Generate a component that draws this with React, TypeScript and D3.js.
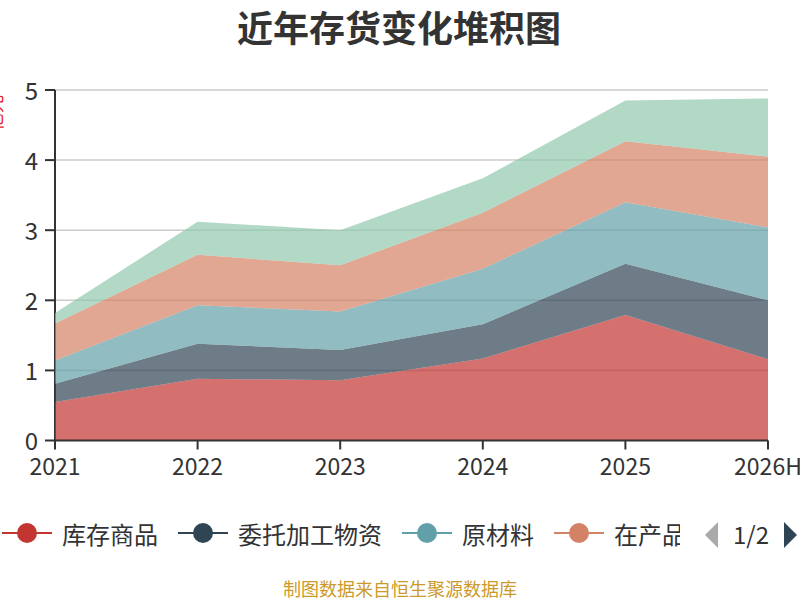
import React from "react";
import * as d3 from "d3";

const years = ["2021", "2022", "2023", "2024", "2025", "2026H"];
const seriesNames = ["库存商品", "委托加工物资", "原材料", "在产品", "发出商品"];
const colors = ["#c23531", "#2f4554", "#61a0a8", "#d48265", "#91c7ae"];

const kucun = [0.55, 0.88, 0.86, 1.17, 1.79, 1.16];
const weituo = [0.26, 0.5, 0.43, 0.49, 0.73, 0.84];
const yuancailiao = [0.33, 0.55, 0.55, 0.79, 0.88, 1.04];
const zaichanpin = [0.53, 0.72, 0.66, 0.8, 0.87, 1.01];
const fachu = [0.15, 0.47, 0.5, 0.49, 0.58, 0.83];

const yTicks = [0, 1, 2, 3, 4, 5];

const W = 800;
const H = 600;
const left = 55;
const right = 768;
const top = 90;
const bottom = 440.5;
const font = "'Noto Sans CJK SC', 'Noto Sans', sans-serif";

export default function App() {
  const rows = years.map((y, i) => ({
    year: y,
    [seriesNames[0]]: kucun[i],
    [seriesNames[1]]: weituo[i],
    [seriesNames[2]]: yuancailiao[i],
    [seriesNames[3]]: zaichanpin[i],
    [seriesNames[4]]: fachu[i],
  }));

  const x = d3.scalePoint<string>().domain(years).range([left, right]);
  const y = d3.scaleLinear().domain([0, 5]).range([bottom, top]);

  const stack = d3.stack<any>().keys(seriesNames);
  const layers = stack(rows);

  const area = d3
    .area<any>()
    .x((d) => x(d.data.year) as number)
    .y0((d) => y(d[0]))
    .y1((d) => y(d[1]));

  // legend layout (first page only, clipped like the scroll legend)
  const legendFont = 24;
  const iconW = 50;
  let cursor = 2;
  const legendItems = seriesNames.slice(0, 4).map((name, i) => {
    const item = { name, color: colors[i], x: cursor };
    cursor += iconW + 10 + name.length * legendFont + 20;
    return item;
  });
  const legendY = 533;

  return (
    <div style={{ position: "absolute", left: 0, top: 0 }}>
      <svg width={W} height={H} style={{ display: "block", fontFamily: font }}>
        <rect width={W} height={H} fill="#fff" />
        <text
          x={W / 2 - 1}
          y={26}
          textAnchor="middle"
          dominantBaseline="central"
          fontSize={36}
          fontWeight="bold"
          fill="#333"
        >
          近年存货变化堆积图
        </text>

        {/* y axis name, clipped at the page edge */}
        <text
          transform={`translate(2, 113) rotate(-90)`}
          textAnchor="middle"
          fontSize={18}
          fill="#e8191b"
        >
          亿元
        </text>

        {/* grid */}
        {yTicks.slice(1).map((t) => (
          <line
            key={t}
            x1={left}
            x2={right}
            y1={y(t)}
            y2={y(t)}
            stroke="#ccc"
            strokeWidth={1.5}
          />
        ))}

        {/* y axis */}
        <line x1={left} x2={left} y1={top} y2={bottom} stroke="#333" strokeWidth={2} />
        {yTicks.map((t) => (
          <g key={t}>
            <line x1={left - 10} x2={left} y1={y(t)} y2={y(t)} stroke="#333" strokeWidth={2} />
            <text
              x={left - 17}
              y={y(t) - 1}
              textAnchor="end"
              dominantBaseline="central"
              fontSize={24}
              fill="#333"
            >
              {t}
            </text>
          </g>
        ))}

        {/* areas */}
        {layers.map((layer, i) => (
          <path key={layer.key} d={area(layer) as string} fill={colors[i]} fillOpacity={0.7} />
        ))}

        {/* x axis */}
        <line x1={left} x2={right} y1={bottom} y2={bottom} stroke="#333" strokeWidth={2} />
        {years.map((yr) => (
          <g key={yr}>
            <line
              x1={x(yr)}
              x2={x(yr)}
              y1={bottom}
              y2={bottom + 9}
              stroke="#333"
              strokeWidth={2}
            />
            <text
              x={x(yr)}
              y={bottom + 24}
              textAnchor="middle"
              dominantBaseline="central"
              fontSize={23}
              fill="#333"
            >
              {yr}
            </text>
          </g>
        ))}

        {/* legend */}
        <defs>
          <clipPath id="legendClip">
            <rect x={0} y={500} width={680} height={70} />
          </clipPath>
        </defs>
        <g clipPath="url(#legendClip)">
          {legendItems.map((it) => (
            <g key={it.name} transform={`translate(${it.x}, ${legendY})`}>
              <line x1={0} x2={iconW} y1={0} y2={0} stroke={it.color} strokeWidth={2} />
              <circle cx={iconW / 2} cy={0} r={10} fill={it.color} />
              <text
                x={iconW + 10}
                y={0}
                dominantBaseline="central"
                fontSize={legendFont}
                fill="#333"
              >
                {it.name}
              </text>
            </g>
          ))}
        </g>
        <path d="M718,522 L705,535 L718,548 Z" fill="#aaa" />
        <text
          x={751}
          y={legendY}
          textAnchor="middle"
          dominantBaseline="central"
          fontSize={24}
          fill="#333"
        >
          1/2
        </text>
        <path d="M784,522 L797,535 L784,548 Z" fill="#2f4554" />

        <text
          x={W / 2}
          y={588}
          textAnchor="middle"
          dominantBaseline="central"
          fontSize={18}
          fill="#cc9a2a"
        >
          制图数据来自恒生聚源数据库
        </text>
      </svg>
    </div>
  );
}
